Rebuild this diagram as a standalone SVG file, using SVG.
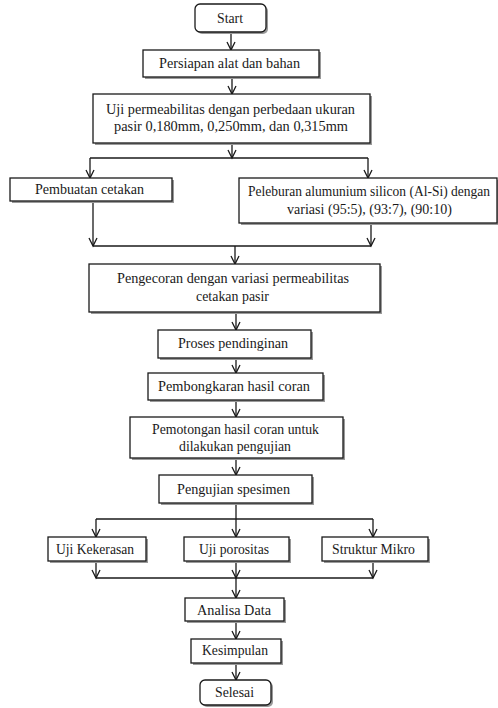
<svg xmlns="http://www.w3.org/2000/svg" width="498" height="708" viewBox="0 0 498 708">
<defs>
<style>
.b{fill:#fff;stroke:#1a1a1a;stroke-width:1.3}
.s{fill:#9a9a9a}
.t{font-family:'Liberation Serif','DejaVu Serif',serif;font-size:14px;fill:#1a1a1a}
.c{fill:none;stroke:#1a1a1a;stroke-width:1.3}
</style>
<marker id="ar" markerUnits="userSpaceOnUse" markerWidth="12" markerHeight="12" refX="10" refY="5" orient="auto" viewBox="0 0 12 10">
<path d="M2,1 L10,5 L2,9" fill="none" stroke="#1a1a1a" stroke-width="1.3"/>
</marker>
</defs>
<rect width="498" height="708" fill="#fff"/>
<g id="connectors">
<line class="c" x1="231" y1="32" x2="231" y2="50" marker-end="url(#ar)"/>
<line class="c" x1="232" y1="77" x2="232" y2="94" marker-end="url(#ar)"/>
<line class="c" x1="232" y1="143" x2="232" y2="158" marker-end="url(#ar)"/>
<line class="c" x1="90" y1="158" x2="368" y2="158"/>
<line class="c" x1="90" y1="158" x2="90" y2="178" marker-end="url(#ar)"/>
<line class="c" x1="368" y1="158" x2="368" y2="178" marker-end="url(#ar)"/>
<line class="c" x1="93" y1="201" x2="93" y2="246" marker-end="url(#ar)"/>
<line class="c" x1="371" y1="223" x2="371" y2="246" marker-end="url(#ar)"/>
<line class="c" x1="93" y1="246" x2="371" y2="246"/>
<line class="c" x1="235" y1="246" x2="235" y2="264" marker-end="url(#ar)"/>
<line class="c" x1="236" y1="312" x2="236" y2="330" marker-end="url(#ar)"/>
<line class="c" x1="236" y1="358" x2="236" y2="373" marker-end="url(#ar)"/>
<line class="c" x1="236" y1="400" x2="236" y2="417" marker-end="url(#ar)"/>
<line class="c" x1="236" y1="458" x2="236" y2="475" marker-end="url(#ar)"/>
<line class="c" x1="236" y1="503" x2="236" y2="537" marker-end="url(#ar)"/>
<line class="c" x1="96" y1="519" x2="373" y2="519"/>
<line class="c" x1="96" y1="519" x2="96" y2="537" marker-end="url(#ar)"/>
<line class="c" x1="373" y1="519" x2="373" y2="537" marker-end="url(#ar)"/>
<line class="c" x1="96" y1="561" x2="96" y2="578" marker-end="url(#ar)"/>
<line class="c" x1="236" y1="561" x2="236" y2="578" marker-end="url(#ar)"/>
<line class="c" x1="373" y1="561" x2="373" y2="578" marker-end="url(#ar)"/>
<line class="c" x1="96" y1="578" x2="373" y2="578"/>
<line class="c" x1="236" y1="578" x2="236" y2="598" marker-end="url(#ar)"/>
<line class="c" x1="236" y1="621" x2="236" y2="639" marker-end="url(#ar)"/>
<line class="c" x1="236" y1="663" x2="236" y2="680" marker-end="url(#ar)"/>
</g>
<g id="start">
<rect class="s" x="197" y="6" width="71" height="28" rx="5"/>
<rect class="b" x="195" y="4" width="71" height="28" rx="5"/>
<text class="t" x="217" y="23" textLength="26" lengthAdjust="spacingAndGlyphs">Start</text>
</g>
<g id="persiapan">
<rect class="s" x="145" y="52" width="176" height="27"/>
<rect class="b" x="143" y="50" width="176" height="27"/>
<text class="t" x="159" y="68" textLength="141" lengthAdjust="spacingAndGlyphs">Persiapan alat dan bahan</text>
</g>
<g id="uji-permeabilitas">
<rect class="s" x="95" y="96" width="277" height="49"/>
<rect class="b" x="93" y="94" width="277" height="49"/>
<text class="t" x="106" y="114" textLength="249" lengthAdjust="spacingAndGlyphs">Uji permeabilitas  dengan perbedaan ukuran</text>
<text class="t" x="114" y="131" textLength="234" lengthAdjust="spacingAndGlyphs">pasir 0,180mm, 0,250mm, dan 0,315mm</text>
</g>
<g id="pembuatan">
<rect class="s" x="12" y="180" width="162" height="23"/>
<rect class="b" x="10" y="178" width="162" height="23"/>
<text class="t" x="35" y="194" textLength="109" lengthAdjust="spacingAndGlyphs">Pembuatan cetakan</text>
</g>
<g id="peleburan">
<rect class="s" x="241" y="180" width="258" height="45"/>
<rect class="b" x="239" y="178" width="258" height="45"/>
<text class="t" x="248" y="196" textLength="242" lengthAdjust="spacingAndGlyphs">Peleburan alumunium silicon (Al-Si) dengan</text>
<text class="t" x="287" y="214" textLength="165" lengthAdjust="spacingAndGlyphs">variasi (95:5), (93:7), (90:10)</text>
</g>
<g id="pengecoran">
<rect class="s" x="91" y="266" width="291" height="48"/>
<rect class="b" x="89" y="264" width="291" height="48"/>
<text class="t" x="117" y="283" textLength="232" lengthAdjust="spacingAndGlyphs">Pengecoran dengan variasi permeabilitas</text>
<text class="t" x="196" y="301" textLength="73" lengthAdjust="spacingAndGlyphs">cetakan pasir</text>
</g>
<g id="pendinginan">
<rect class="s" x="160" y="332" width="153" height="28"/>
<rect class="b" x="158" y="330" width="153" height="28"/>
<text class="t" x="178" y="348" textLength="110" lengthAdjust="spacingAndGlyphs">Proses pendinginan</text>
</g>
<g id="pembongkaran">
<rect class="s" x="150" y="375" width="175" height="27"/>
<rect class="b" x="148" y="373" width="175" height="27"/>
<text class="t" x="158" y="391" textLength="152" lengthAdjust="spacingAndGlyphs">Pembongkaran hasil coran</text>
</g>
<g id="pemotongan">
<rect class="s" x="132" y="419" width="213" height="41"/>
<rect class="b" x="130" y="417" width="213" height="41"/>
<text class="t" x="152" y="434" textLength="167" lengthAdjust="spacingAndGlyphs">Pemotongan hasil coran untuk</text>
<text class="t" x="179" y="451" textLength="112" lengthAdjust="spacingAndGlyphs">dilakukan pengujian</text>
</g>
<g id="pengujian">
<rect class="s" x="161" y="477" width="153" height="28"/>
<rect class="b" x="159" y="475" width="153" height="28"/>
<text class="t" x="177" y="494" textLength="113" lengthAdjust="spacingAndGlyphs">Pengujian spesimen</text>
</g>
<g id="kekerasan">
<rect class="s" x="50" y="539" width="98" height="24"/>
<rect class="b" x="48" y="537" width="98" height="24"/>
<text class="t" x="56" y="554" textLength="78" lengthAdjust="spacingAndGlyphs">Uji Kekerasan</text>
</g>
<g id="porositas">
<rect class="s" x="186" y="539" width="105" height="24"/>
<rect class="b" x="184" y="537" width="105" height="24"/>
<text class="t" x="199" y="554" textLength="70" lengthAdjust="spacingAndGlyphs">Uji porositas</text>
</g>
<g id="mikro">
<rect class="s" x="324" y="539" width="106" height="24"/>
<rect class="b" x="322" y="537" width="106" height="24"/>
<text class="t" x="332" y="554" textLength="83" lengthAdjust="spacingAndGlyphs">Struktur Mikro</text>
</g>
<g id="analisa">
<rect class="s" x="187" y="600" width="99" height="23"/>
<rect class="b" x="185" y="598" width="99" height="23"/>
<text class="t" x="197" y="615" textLength="74" lengthAdjust="spacingAndGlyphs">Analisa Data</text>
</g>
<g id="kesimpulan">
<rect class="s" x="193" y="641" width="90" height="24"/>
<rect class="b" x="191" y="639" width="90" height="24"/>
<text class="t" x="202" y="655" textLength="66" lengthAdjust="spacingAndGlyphs">Kesimpulan</text>
</g>
<g id="selesai">
<rect class="s" x="202" y="682" width="71" height="25" rx="5"/>
<rect class="b" x="200" y="680" width="71" height="25" rx="5"/>
<text class="t" x="215" y="697" textLength="39" lengthAdjust="spacingAndGlyphs">Selesai</text>
</g>
</svg>
